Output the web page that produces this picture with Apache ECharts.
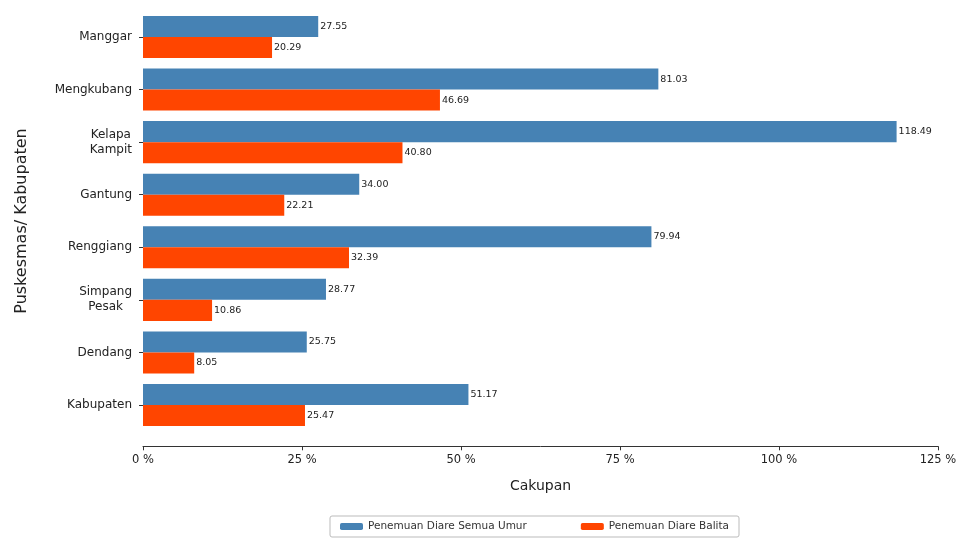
<!DOCTYPE html>
<html><head><meta charset="utf-8">
<script src="https://cdn.jsdelivr.net/npm/echarts@6/dist/echarts.min.js"></script>
<style>html,body{margin:0;padding:0;background:#fff}#c{width:961px;height:543px}</style>
</head><body><div id="c"></div>
<script>
var categories = ["Manggar", "Mengkubang", "Kelapa\nKampit", "Gantung", "Renggiang", "Simpang\nPesak", "Dendang", "Kabupaten"];
var semuaUmur = [27.55, 81.03, 118.49, 34.00, 79.94, 28.77, 25.75, 51.17];
var balita = [20.29, 46.69, 40.80, 22.21, 32.39, 10.86, 8.05, 25.47];
var xTicks = [0, 25, 50, 75, 100, 125];
var seriesNames = ["Penemuan Diare Semua Umur", "Penemuan Diare Balita"];

var chart = echarts.init(document.getElementById('c'));
var ff = '"DejaVu Sans", sans-serif';
var lbl = {show: true, position: 'right', distance: 2, fontSize: 9.5, color: '#222', fontFamily: ff,
  formatter: function(p){ return p.value.toFixed(2); }};
chart.setOption({
  animation: false,
  textStyle: {fontFamily: ff},
  grid: {left: 143, right: 23, top: 10.7, bottom: 111.7},
  legend: {
    bottom: 6, left: 330, itemWidth: 23, itemHeight: 7, itemGap: 54,
    borderColor: '#bbb', borderWidth: 1, borderRadius: 2, padding: [5, 10],
    textStyle: {fontSize: 10.5, color: '#333', fontFamily: ff},
    data: seriesNames
  },
  xAxis: {
    type: 'value', min: xTicks[0], max: xTicks[xTicks.length-1], interval: 25, offset: 15,
    name: 'Cakupan', nameLocation: 'middle', nameGap: 33,
    nameTextStyle: {fontSize: 14, color: '#222', fontFamily: ff},
    axisLine: {show: true, lineStyle: {color: '#333', width: 1}},
    axisTick: {show: true, length: 4, lineStyle: {color: '#333'}},
    axisLabel: {fontSize: 11.5, color: '#222', formatter: '{value} %', margin: 8},
    splitLine: {show: false}
  },
  yAxis: {
    type: 'category', inverse: true, data: categories,
    name: 'Puskesmas/ Kabupaten', nameLocation: 'middle', nameGap: 113, nameRotate: 90,
    nameTextStyle: {fontSize: 16, color: '#222', fontFamily: ff},
    axisLine: {show: false},
    axisTick: {show: true, alignWithLabel: true, length: 4, lineStyle: {color: '#333'}},
    axisLabel: {fontSize: 12, color: '#222', margin: 11,
      formatter: function(v){ return v.split('\n').map(function(s){ return '{c|' + s + '}'; }).join('\n'); },
      rich: {c: {fontSize: 12, color: '#222', fontFamily: ff, align: 'center', lineHeight: 15}}}
  },
  series: [
    {name: seriesNames[0], type: 'bar', data: semuaUmur, barWidth: '40%', barGap: '0%', barCategoryGap: '20%',
     itemStyle: {color: '#4682B4'}, label: lbl},
    {name: seriesNames[1], type: 'bar', data: balita, barWidth: '40%', barGap: '0%',
     itemStyle: {color: '#FF4500'}, label: lbl}
  ]
});
</script></body></html>
